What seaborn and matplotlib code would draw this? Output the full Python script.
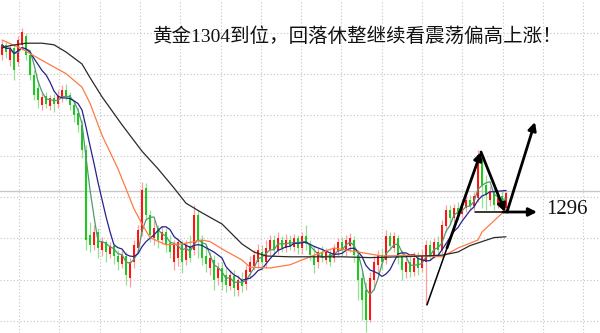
import numpy as np
import pandas as pd
import matplotlib
matplotlib.use("Agg")
import matplotlib.pyplot as plt
import seaborn as sns

# ---------------- data ----------------
opens = [1315.6, 1316.9, 1315.0, 1316.5, 1314.8, 1316.9, 1318.0, 1315.6, 1313.1, 1311.5,
         1309.4, 1310.5, 1309.3, 1310.3, 1309.5, 1310.3, 1311.3, 1310.6, 1309.4, 1308.4,
         1306.9, 1303.8, 1293.1, 1291.9, 1293.5, 1291.3, 1292.3, 1290.8, 1291.8, 1290.5,
         1289.5, 1290.5, 1287.8, 1289.8, 1291.5, 1293.5, 1299.0, 1295.6, 1292.8, 1294.0,
         1292.5, 1293.5, 1292.1, 1289.8, 1290.3, 1292.0, 1290.0, 1291.8, 1291.3, 1295.6,
         1292.5, 1290.5, 1289.0, 1290.0, 1287.8, 1289.0, 1288.1, 1286.8, 1288.0, 1286.3,
         1287.5, 1287.0, 1288.5, 1289.3, 1289.8, 1291.0, 1289.8, 1291.3, 1292.5, 1291.3,
         1292.5, 1291.5, 1292.5, 1291.6, 1292.8, 1291.5, 1293.0, 1292.0, 1290.6, 1289.8,
         1291.0, 1290.0, 1290.8, 1290.3, 1291.0, 1292.3, 1291.3, 1291.8, 1292.5, 1290.6,
         1287.8, 1286.3, 1282.5, 1287.5, 1289.4, 1290.6, 1290.0, 1293.0, 1291.5, 1292.8,
         1290.6, 1288.5, 1289.8, 1288.5, 1290.3, 1289.0, 1289.8, 1291.9, 1290.6, 1292.3,
         1291.3, 1294.3, 1296.3, 1295.3, 1296.5, 1295.8, 1296.5, 1297.5, 1296.8, 1297.8,
         1302.8, 1299.4, 1297.5, 1298.5, 1296.9, 1298.0, 1296.5]
highs = [1317.5, 1317.3, 1317.0, 1317.0, 1318.0, 1319.0, 1318.4, 1316.0, 1313.8, 1312.5,
         1310.9, 1311.0, 1310.6, 1310.8, 1311.3, 1311.9, 1312.0, 1311.0, 1310.0, 1309.0,
         1307.5, 1304.4, 1294.8, 1294.4, 1294.0, 1292.9, 1292.5, 1292.3, 1292.1, 1291.3,
         1291.3, 1291.0, 1290.3, 1292.5, 1294.4, 1299.8, 1299.6, 1296.3, 1295.0, 1294.4,
         1294.3, 1294.0, 1293.1, 1292.5, 1292.8, 1292.5, 1292.5, 1293.1, 1296.9, 1296.3,
         1293.1, 1291.9, 1291.0, 1290.6, 1289.8, 1289.8, 1289.0, 1288.8, 1288.8, 1288.1,
         1288.5, 1289.4, 1290.5, 1291.3, 1292.0, 1291.9, 1292.5, 1293.1, 1293.1, 1293.5,
         1293.0, 1293.3, 1293.1, 1293.3, 1293.1, 1293.5, 1294.4, 1292.5, 1291.9, 1291.5,
         1291.8, 1291.5, 1291.3, 1292.0, 1292.8, 1292.9, 1293.1, 1293.4, 1293.0, 1291.3,
         1288.8, 1287.3, 1288.5, 1290.5, 1291.3, 1291.5, 1293.8, 1293.5, 1293.5, 1293.1,
         1291.3, 1290.6, 1290.5, 1291.0, 1291.0, 1291.3, 1292.5, 1292.5, 1292.8, 1293.0,
         1295.0, 1296.9, 1296.9, 1297.0, 1297.3, 1297.5, 1298.0, 1298.1, 1298.5, 1303.8,
         1303.3, 1300.6, 1299.3, 1299.0, 1298.5, 1298.8, 1298.8]
lows = [1315.0, 1315.3, 1314.3, 1312.5, 1314.3, 1316.3, 1315.0, 1312.5, 1310.0, 1309.0,
        1308.8, 1309.0, 1308.8, 1308.5, 1309.0, 1309.8, 1310.0, 1308.8, 1307.3, 1306.0,
        1302.8, 1291.3, 1291.0, 1291.3, 1290.3, 1290.5, 1289.8, 1290.3, 1289.5, 1288.8,
        1289.0, 1286.9, 1286.6, 1289.0, 1291.0, 1293.0, 1295.0, 1292.3, 1291.9, 1291.5,
        1292.0, 1291.0, 1290.3, 1288.8, 1289.3, 1288.4, 1289.4, 1289.8, 1290.6, 1290.3,
        1289.4, 1288.5, 1288.1, 1286.3, 1286.9, 1286.3, 1286.0, 1286.3, 1285.5, 1285.5,
        1286.0, 1286.3, 1287.8, 1288.8, 1289.0, 1288.8, 1289.0, 1290.6, 1290.5, 1290.8,
        1291.0, 1291.0, 1291.3, 1291.1, 1290.8, 1290.8, 1291.3, 1290.0, 1288.4, 1289.0,
        1289.8, 1289.5, 1289.3, 1289.8, 1290.5, 1290.5, 1290.5, 1291.0, 1289.8, 1285.0,
        1282.5, 1281.0, 1282.3, 1286.3, 1288.1, 1288.8, 1289.5, 1291.3, 1291.0, 1289.5,
        1287.5, 1287.8, 1287.9, 1288.0, 1288.1, 1288.5, 1284.4, 1290.0, 1290.3, 1290.6,
        1290.8, 1293.5, 1294.5, 1294.8, 1295.0, 1295.3, 1296.0, 1296.3, 1296.3, 1297.3,
        1296.5, 1296.3, 1296.8, 1296.3, 1296.5, 1296.6, 1296.0]
closes = [1316.9, 1316.0, 1316.5, 1313.8, 1317.5, 1318.5, 1315.6, 1313.1, 1310.6, 1310.0,
          1310.4, 1309.5, 1310.3, 1309.5, 1310.5, 1311.3, 1310.5, 1309.4, 1308.1, 1306.9,
          1303.8, 1292.5, 1291.9, 1293.5, 1291.5, 1292.3, 1291.0, 1291.8, 1290.5, 1289.8,
          1290.6, 1288.1, 1289.8, 1291.9, 1293.8, 1298.8, 1295.6, 1293.1, 1294.0, 1292.5,
          1293.5, 1291.9, 1291.0, 1291.9, 1292.3, 1289.8, 1291.9, 1290.3, 1295.6, 1292.5,
          1290.3, 1289.5, 1290.3, 1287.5, 1289.0, 1287.3, 1286.9, 1288.1, 1286.5, 1287.5,
          1286.8, 1288.8, 1289.8, 1290.6, 1291.3, 1289.8, 1291.5, 1292.5, 1291.3, 1292.8,
          1291.5, 1292.5, 1291.8, 1292.8, 1291.5, 1293.0, 1292.0, 1290.6, 1289.4, 1291.0,
          1290.3, 1291.0, 1289.8, 1291.5, 1292.3, 1291.3, 1292.5, 1292.8, 1290.6, 1287.5,
          1285.0, 1282.5, 1287.8, 1289.8, 1290.6, 1289.8, 1293.0, 1291.8, 1293.0, 1290.3,
          1288.8, 1289.8, 1288.5, 1290.3, 1289.0, 1290.5, 1291.9, 1290.6, 1292.3, 1291.3,
          1294.4, 1296.3, 1295.3, 1296.5, 1295.8, 1296.9, 1297.5, 1296.8, 1298.0, 1303.1,
          1299.4, 1298.1, 1298.5, 1296.9, 1298.0, 1297.1, 1298.4]

# slow moving averages at selected candles
orange_idx = [0, 5, 7, 12, 16, 20, 22, 25, 29, 33, 35, 37, 41, 45, 50, 52, 56, 60, 62, 67,
              72, 77, 83, 89, 95, 103, 110, 114, 119, 120, 123, 126]
orange_vals = [1317.5, 1316.4, 1315.8, 1314.4, 1313.3, 1311.6, 1309.6, 1305.6, 1301.4, 1296.4,
               1294.5, 1292.8, 1291.9, 1292.0, 1292.5, 1292.3, 1291.1, 1290.0, 1289.1, 1289.0,
               1289.4, 1290.4, 1291.5, 1291.0, 1290.5, 1290.6, 1290.4, 1291.5, 1292.5, 1293.5,
               1294.9, 1296.3]
black_idx = [0, 2, 6, 10, 13, 16, 20, 22, 25, 28, 30, 35, 39, 43, 46, 50, 55, 60, 63, 66,
             72, 85, 92, 100, 110, 114, 117, 120, 123, 126]
black_vals = [1316.5, 1316.8, 1317.1, 1317.1, 1316.9, 1316.0, 1314.5, 1312.8, 1310.4, 1308.3,
              1306.9, 1303.6, 1301.4, 1299.0, 1297.1, 1295.9, 1294.5, 1292.0, 1291.0, 1290.5,
              1290.4, 1290.4, 1290.3, 1290.4, 1290.6, 1291.0, 1291.8, 1292.3, 1292.8, 1292.9]

last_price = 1298.6
title_text = "黄金1304到位，回落休整继续看震荡偏高上涨！"
level_label = "1296"
level_value = 1296.0
# annotation arrows: (x0, y0, x1, y1, thick)
arrow_x0 = [106.25, 111.25, 119.75, 126.25, 118.25, 125.25]
arrow_y0 = [1284.4, 1291.5, 1303.5, 1296.0, 1296.0, 1296.0]
arrow_x1 = [111.25, 119.75, 125.75, 133.25, 125.25, 133.75]
arrow_y1 = [1291.5, 1303.5, 1296.0, 1307.25, 1296.0, 1296.0]
arrow_head = [False, True, True, True, False, True]

# ---------------- figure ----------------
sns.set_theme(style="white")
plt.rcParams["font.family"] = ["Liberation Serif", "Noto Sans CJK SC", "DejaVu Sans"]

fig = plt.figure(figsize=(6, 3.33), dpi=100)
ax = fig.add_axes([0, 0, 1, 1])
ax.set_xlim(-0.5, 149.5)
ax.set_ylim(1280.875, 1322.5)
ax.set_axis_off()

grid_kw = dict(color="#c4c4c4", lw=0.8, ls=(0, (1, 2)), zorder=0)
for gx in 4.25 + 10.075 * np.arange(15):
    ax.axvline(gx, **grid_kw)
for gy in 1318.4 - 5.14 * np.arange(8):
    ax.axhline(gy, **grid_kw)
ax.axhline(last_price, color="#c8c8c8", lw=1.0, zorder=0.5)

o = np.array(opens); h = np.array(highs); l = np.array(lows); c = np.array(closes)
idx = np.arange(len(c))
up = c >= o
body_col = np.where(up, "#ff1414", "#1ec81e")
wick_col = np.where(up, "#ff9c9c", "#92e092")
ax.vlines(idx, l, h, colors=wick_col, lw=0.9, zorder=1)
hgt = c - o
hgt = np.where(np.abs(hgt) < 0.15, 0.15, hgt)
ax.bar(idx, hgt, bottom=o, width=0.55, color=body_col, lw=0, zorder=2)

df = pd.DataFrame({"idx": idx, "close": c})
df["ma_fast"] = df["close"].rolling(4, min_periods=1).mean()
df["ma_mid"] = df["close"].rolling(8, min_periods=1).mean()
sns.lineplot(data=df, x="idx", y="ma_fast", ax=ax, color="#4f9a70", lw=0.9, zorder=3)
sns.lineplot(data=df, x="idx", y="ma_mid", ax=ax, color="#23238c", lw=0.9, zorder=3)
sns.lineplot(x=orange_idx, y=orange_vals, ax=ax, color="#ff7a45", lw=0.9, zorder=3)
sns.lineplot(x=black_idx, y=black_vals, ax=ax, color="#2a2a2a", lw=0.9, zorder=3)
ax.set_xlim(-0.5, 149.5)
ax.set_ylim(1280.875, 1322.5)
ax.set_axis_off()

for x0, y0, x1, y1, head in zip(arrow_x0, arrow_y0, arrow_x1, arrow_y1, arrow_head):
    if head:
        ax.annotate("", xy=(x1, y1), xytext=(x0, y0),
                    arrowprops=dict(arrowstyle="-|>", color="black", lw=2.0,
                                    mutation_scale=12, shrinkA=0, shrinkB=0),
                    zorder=5)
    else:
        ax.plot([x0, x1], [y0, y1], color="black", lw=1.1, zorder=5)

ax.text(136.0, level_value + 0.3, level_label, fontsize=15, ha="left", va="center",
        family=["Liberation Serif"], color="#111111", zorder=6)

fig.text(153 / 600, 1 - 36.5 / 333, title_text, fontsize=14, ha="left", va="center",
         family=["Liberation Serif", "Noto Sans CJK SC"], color="#111111")

fig.savefig("out.png", dpi=100)
